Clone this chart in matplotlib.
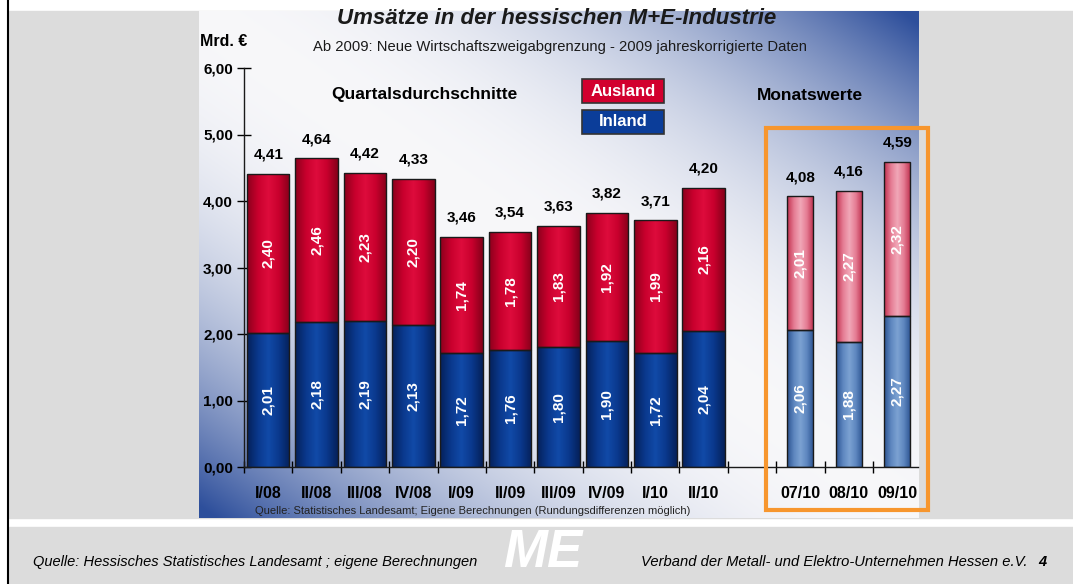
import numpy as np
import matplotlib.pyplot as plt
from matplotlib.colors import LinearSegmentedColormap
from matplotlib.patches import Rectangle
from matplotlib.ticker import FuncFormatter

plt.rcParams['font.family'] = ['Liberation Sans', 'DejaVu Sans']

# quarterly averages (Mrd. EUR)
quarters = ['I/08', 'II/08', 'III/08', 'IV/08', 'I/09', 'II/09', 'III/09', 'IV/09', 'I/10', 'II/10']
q_inland = [2.01, 2.18, 2.19, 2.13, 1.72, 1.76, 1.80, 1.90, 1.72, 2.04]
q_ausland = [2.40, 2.46, 2.23, 2.20, 1.74, 1.78, 1.83, 1.92, 1.99, 2.16]
q_total = [4.41, 4.64, 4.42, 4.33, 3.46, 3.54, 3.63, 3.82, 3.71, 4.20]

# monthly values
months = ['07/10', '08/10', '09/10']
m_inland = [2.06, 1.88, 2.27]
m_ausland = [2.01, 2.27, 2.32]
m_total = [4.08, 4.16, 4.59]

W, H = 1073, 584
fig = plt.figure(figsize=(W / 100, H / 100), dpi=100, facecolor='white')

# background layer in pixel coords
bg = fig.add_axes([0, 0, 1, 1], zorder=-1)
bg.set_xlim(0, W)
bg.set_ylim(H, 0)
bg.axis('off')
gray = '#dcdcdc'
bg.add_patch(Rectangle((9, 11), W - 9, 507, color=gray, zorder=0.5))
bg.add_patch(Rectangle((9, 527), W - 9, H - 527, color=gray, zorder=0.5))
bg.plot([8, 8], [0, H], color='black', lw=1.5)

# diagonal gradient panel
u = np.linspace(0, 1, 360)[None, :]
v = np.linspace(0, 1, 254)[:, None]
f = np.clip(1.05 * np.abs(u - v) ** 2.2, 0, 1)[..., None]
light = np.array([0.97, 0.97, 0.98])
blue = np.array([0.18, 0.31, 0.61])
panel = light * (1 - f) + blue * f
bg.imshow(panel, extent=(199, 919, 518, 11), aspect='auto', interpolation='bilinear', zorder=1)
bg.set_xlim(0, W)
bg.set_ylim(H, 0)

bg.text(557, 19, 'Umsätze in der hessischen M+E-Industrie', ha='center', va='center',
        fontsize=16, fontweight='bold', fontstyle='italic', color='#1a1a1a', zorder=3)
bg.text(560, 47, 'Ab 2009: Neue Wirtschaftszweigabgrenzung - 2009 jahreskorrigierte Daten',
        ha='center', va='center', fontsize=10.6, color='#1a1a1a', zorder=3)
bg.text(200, 42, 'Mrd. €', ha='left', va='center', fontsize=11.5, fontweight='bold', zorder=3)
bg.text(424, 95, 'Quartalsdurchschnitte', ha='center', va='center', fontsize=12.5,
        fontweight='bold', zorder=3)
bg.text(810, 95, 'Monatswerte', ha='center', va='center', fontsize=12.5, fontweight='bold', zorder=3)
bg.text(473, 511, 'Quelle: Statistisches Landesamt; Eigene Berechnungen (Rundungsdifferenzen möglich)',
        ha='center', va='center', fontsize=8, color='#222222', zorder=3)

bg.text(33, 562, 'Quelle: Hessisches Statistisches Landesamt ; eigene Berechnungen', ha='left',
        va='center', fontsize=10.5, fontstyle='italic', zorder=3)
bg.text(543, 553, 'ME', ha='center', va='center', fontsize=38, fontweight='heavy',
        fontstyle='italic', color='white', zorder=3)
bg.text(641, 562, 'Verband der Metall- und Elektro-Unternehmen Hessen e.V.', ha='left',
        va='center', fontsize=10.6, fontstyle='italic', zorder=3)
bg.text(1038, 562, '4', ha='left', va='center', fontsize=10.5, fontweight='bold',
        fontstyle='italic', zorder=3)

# main chart axes
ax = fig.add_axes([244 / W, 1 - 467 / H, (918 - 244) / W, (467 - 68) / H], zorder=1)
ax.set_facecolor('none')

q_pos = np.arange(len(quarters))
m_pos = len(quarters) + 1 + np.arange(len(months))

cmaps = {
    'q_red': LinearSegmentedColormap.from_list('qr', ['#8c001c', '#c8002d', '#de0c3c', '#c8002d', '#86001a']),
    'q_blue': LinearSegmentedColormap.from_list('qb', ['#05215a', '#0a388c', '#114aa8', '#0a388c', '#05215a']),
    'm_red': LinearSegmentedColormap.from_list('mr', ['#c2304f', '#e47a92', '#f1a8b8', '#e47a92', '#bd2e4c']),
    'm_blue': LinearSegmentedColormap.from_list('mb', ['#2b5290', '#5d86bf', '#7ca2d2', '#5d86bf', '#2b5290']),
}
grad = np.linspace(0, 1, 64)[None, :]


def shaded_bars(pos, heights, bottom, width, cmap):
    bars = ax.bar(pos, heights, width, bottom=bottom, color=cmap(0.5), linewidth=0, zorder=1.5)
    for p in bars:
        x0, y0 = p.get_x(), p.get_y()
        im = ax.imshow(grad, extent=(x0, x0 + p.get_width(), y0, y0 + p.get_height()),
                       aspect='auto', cmap=cmap, zorder=2, interpolation='bilinear')
        im.set_clip_path(p)
    ax.bar(pos, heights, width, bottom=bottom, fill=False, edgecolor='#1a1a1a', linewidth=1, zorder=3)
    return bars


def seg_labels(pos, heights, bottom):
    for x, h, b in zip(pos, heights, bottom):
        ax.text(x, b + h / 2, f'{h:.2f}'.replace('.', ','), rotation=90, ha='center', va='center',
                color='white', fontsize=11, fontweight='bold', zorder=4)


shaded_bars(q_pos, q_inland, 0, 0.88, cmaps['q_blue'])
shaded_bars(q_pos, q_ausland, q_inland, 0.88, cmaps['q_red'])
shaded_bars(m_pos, m_inland, 0, 0.54, cmaps['m_blue'])
shaded_bars(m_pos, m_ausland, m_inland, 0.54, cmaps['m_red'])

seg_labels(q_pos, q_inland, [0] * len(q_pos))
seg_labels(q_pos, q_ausland, q_inland)
seg_labels(m_pos, m_inland, [0] * len(m_pos))
seg_labels(m_pos, m_ausland, m_inland)

for x, t, a, b in list(zip(q_pos, q_total, q_inland, q_ausland)) + list(zip(m_pos, m_total, m_inland, m_ausland)):
    ax.annotate(f'{t:.2f}'.replace('.', ','), (x, a + b), xytext=(0, 11), textcoords='offset points',
                ha='center', va='baseline', fontsize=11, fontweight='bold', zorder=4)

ax.set_xlim(-0.5, 13.43)
ax.set_ylim(0, 6)
ax.spines['top'].set_visible(False)
ax.spines['right'].set_visible(False)
for s in ('left', 'bottom'):
    ax.spines[s].set_linewidth(1)
    ax.spines[s].set_color('#1a1a1a')

ax.set_yticks(np.arange(0, 7))
ax.yaxis.set_major_formatter(FuncFormatter(lambda val, _: f'{val:.2f}'.replace('.', ',')))
ax.tick_params(axis='y', direction='inout', length=10, width=1, pad=3, labelsize=11)
for lab in ax.get_yticklabels():
    lab.set_fontweight('bold')

ax.set_xticks(np.arange(-0.5, 13, 1.0))
ax.set_xticklabels([])
ax.tick_params(axis='x', which='major', direction='inout', length=9, width=1)
ax.set_xticks(np.concatenate([q_pos, m_pos]), quarters + months, minor=True)
ax.tick_params(axis='x', which='minor', length=0, pad=14, labelsize=11.5)
for lab in ax.get_xticklabels(minor=True):
    lab.set_fontweight('bold')

# overlay: legend boxes and highlight frame
top = fig.add_axes([0, 0, 1, 1], zorder=2)
top.set_xlim(0, W)
top.set_ylim(H, 0)
top.axis('off')
top.set_facecolor('none')
top.add_patch(Rectangle((582, 79), 82, 24, facecolor='#d2002e', edgecolor='#333333', lw=1.2))
top.add_patch(Rectangle((582, 110), 82, 24, facecolor='#0b3d99', edgecolor='#333333', lw=1.2))
top.text(623, 91, 'Ausland', ha='center', va='center', color='white', fontsize=12, fontweight='bold')
top.text(623, 122, 'Inland', ha='center', va='center', color='white', fontsize=12, fontweight='bold')
top.add_patch(Rectangle((766, 128), 162, 382, fill=False, edgecolor='#f7962e', lw=3))

fig.savefig('out.png', dpi=100, facecolor='white')
